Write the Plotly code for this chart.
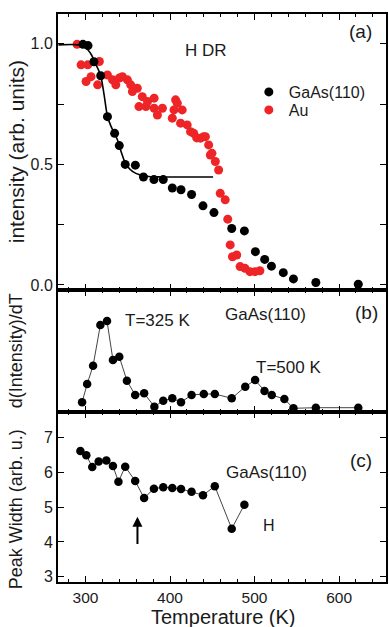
import plotly.graph_objects as go

# ---------------- data ----------------
# panel (a): H DR intensity
gaas_T = [297, 303, 310, 318, 326, 334.5, 340, 347, 359, 368.6, 381, 392, 402.7, 413, 425.5,
          439, 452, 473, 488, 501, 512, 520, 534, 546, 572.5, 622.7]
gaas_I = [0.998, 0.993, 0.926, 0.868, 0.698, 0.629, 0.578, 0.5, 0.497, 0.448, 0.437, 0.437,
          0.402, 0.395, 0.375, 0.328, 0.3, 0.234, 0.224, 0.138, 0.106, 0.078, 0.051, 0.025,
          0.01, 0.003]

au_T = [290, 294.8, 300.7, 302.7, 306.6, 314.4, 316.4, 326, 332, 335.9, 339.9, 343.7, 349.6,
        353.5, 355.5, 361.3, 363.3, 367.2, 371.5, 373.4, 381.2, 381.2, 385.1, 391, 402.7,
        404.7, 406.6, 408.6, 412.5, 414.4, 420.3, 424.3, 428.1, 431.6, 436, 439.9, 441.9,
        445.7, 447.7, 449.6, 453.6, 457.5, 459.4, 465.3, 468.3, 471.2, 473.9, 478.9, 482.9,
        488.7, 494.6, 500.5, 506.3]
au_I = [0.998, 0.913, 0.844, 0.913, 0.864, 0.83, 0.927, 0.871, 0.851, 0.83, 0.858, 0.864,
        0.851, 0.83, 0.802, 0.816, 0.74, 0.781, 0.74, 0.761, 0.775, 0.733, 0.705, 0.733,
        0.692, 0.726, 0.768, 0.754, 0.671, 0.726, 0.664, 0.636, 0.629, 0.61, 0.609, 0.615,
        0.615, 0.581, 0.539, 0.546, 0.512, 0.477, 0.38, 0.353, 0.273, 0.166, 0.117, 0.124,
        0.076, 0.069, 0.055, 0.055, 0.059]

fit_T = [268, 292, 298, 303, 307, 311, 315, 318, 322, 326, 330, 334, 338, 342, 346, 350,
         356, 364, 375, 390, 420, 451]
fit_I = [0.996, 0.996, 0.99, 0.975, 0.955, 0.925, 0.895, 0.868, 0.79, 0.70, 0.66, 0.63,
         0.6, 0.555, 0.515, 0.49, 0.47, 0.457, 0.45, 0.448, 0.448, 0.448]

# panel (b): d(Intensity)/dT (arb.)
dT_T = [296, 302, 309, 317.6, 325.5, 332.5, 340, 349, 358.8, 369.4, 381.5, 392, 402.7, 413,
        425.5, 440, 453, 473, 489, 500.7, 511.8, 520.4, 535.3, 546, 572.5, 622.7]
dT_v = [9.7, 28, 46.3, 87, 91, 52, 55.3, 31.3, 17, 18.7, 5.3, 11.3, 13.7, 9.7, 17, 18, 18,
        13.7, 25.3, 32, 21, 17, 13, 3.7, 4.3, 4.3]

# panel (c): peak width
pw_T = [294, 301, 308, 315.6, 324.7, 332.5, 339, 347, 358.8, 369.4, 381, 392, 402.7, 413,
        425.5, 439, 453, 473, 488]
pw_v = [6.61, 6.49, 6.15, 6.31, 6.34, 6.18, 5.73, 6.16, 5.75, 5.26, 5.53, 5.57, 5.55, 5.52,
        5.44, 5.34, 5.60, 4.38, 5.07]

x_ticks = [300, 400, 500, 600]
ya_ticks = [0.0, 0.5, 1.0]
yc_ticks = [3, 4, 5, 6, 7]

# ---------------- layout helpers ----------------
W, H = 389, 627
L, R, T, B = 58, 388, 14, 582


def px(x):
    return (x - L) / (R - L)


def py(y):
    return (B - y) / (B - T)


RED = "#ee2426"
BLK = "#000000"
FONT = "Liberation Sans, Arial, sans-serif"
TXT = "#1a1a1a"

fig = go.Figure()

fig.add_trace(go.Scatter(x=au_T, y=au_I, mode="markers", name="Au",
                         marker=dict(color=RED, size=9, line=dict(width=0)),
                         xaxis="x", yaxis="y", legend="legend2"))
fig.add_trace(go.Scatter(x=fit_T, y=fit_I, mode="lines", showlegend=False,
                         line=dict(color=BLK, width=1.6, shape="spline"),
                         xaxis="x", yaxis="y"))
fig.add_trace(go.Scatter(x=gaas_T, y=gaas_I, mode="markers", name="GaAs(110)",
                         marker=dict(color=BLK, size=9, line=dict(width=0)),
                         xaxis="x", yaxis="y", legend="legend"))
fig.add_trace(go.Scatter(x=dT_T, y=dT_v, mode="lines+markers", showlegend=False,
                         marker=dict(color=BLK, size=8.5),
                         line=dict(color="#444444", width=1),
                         xaxis="x2", yaxis="y2"))
fig.add_trace(go.Scatter(x=pw_T, y=pw_v, mode="lines+markers", showlegend=False,
                         marker=dict(color=BLK, size=8.5),
                         line=dict(color="#444444", width=1),
                         xaxis="x3", yaxis="y3"))

xr = [267.5, 655.5]
common_x = dict(range=xr, showgrid=False, zeroline=False, showline=True, linecolor=BLK,
                linewidth=2, mirror="allticks", ticks="inside", ticklen=6, tickwidth=1.3,
                tickcolor=BLK, tickvals=x_ticks,
                minor=dict(dtick=20, tick0=0, ticks="inside", ticklen=3, tickwidth=1,
                           tickcolor=BLK))

y_a0, y_a1 = py(290), 1.0
y_b0, y_b1 = py(412), py(290)
y_c0, y_c1 = 0.0, py(412)

leg_common = dict(xanchor="left", yanchor="top", bgcolor="rgba(0,0,0,0)", borderwidth=0,
                  font=dict(size=16, color=TXT), itemwidth=30)

fig.update_layout(
    width=W, height=H,
    margin=dict(l=L, r=W - R, t=T, b=H - B, pad=0),
    paper_bgcolor="white", plot_bgcolor="white",
    font=dict(family=FONT, size=16, color=TXT),
    xaxis=dict(common_x, anchor="y", showticklabels=False),
    xaxis2=dict(common_x, anchor="y2", showticklabels=False, matches="x"),
    xaxis3=dict(common_x, anchor="y3", showticklabels=True, matches="x",
                tickfont=dict(size=15.5, color=TXT)),
    yaxis=dict(domain=[y_a0, y_a1], range=[-0.021, 1.124], showgrid=False, zeroline=False,
               showline=True, linecolor=BLK, linewidth=2, mirror="allticks",
               ticks="inside", ticklen=6, tickwidth=1.3, tickcolor=BLK,
               tickvals=ya_ticks, tickformat=".1f", tickfont=dict(size=16, color=TXT),
               minor=dict(dtick=0.25, tick0=0, ticks="inside", ticklen=6, tickwidth=1,
                          tickcolor=BLK)),
    yaxis2=dict(domain=[y_b0, y_b1], range=[0, 122], showgrid=False, zeroline=False,
                showline=True, linecolor=BLK, linewidth=2, mirror=True, ticks="",
                showticklabels=False),
    yaxis3=dict(domain=[y_c0, y_c1], range=[2.85, 7.73], showgrid=False, zeroline=False,
                showline=True, linecolor=BLK, linewidth=2, mirror="allticks",
                ticks="inside", ticklen=6, tickwidth=1.3, tickcolor=BLK,
                tickvals=yc_ticks, tickfont=dict(size=16, color=TXT)),
    showlegend=True,
    legend=dict(leg_common, x=px(250), y=py(75)),
    legend2=dict(leg_common, x=px(250), y=py(93)),
)

anns = [
    dict(text="H DR", x=px(207), y=py(50), size=17),
    dict(text="(a)", x=px(362), y=py(32), size=19),
    dict(text="T=325 K", x=px(158), y=py(320), size=17),
    dict(text="GaAs(110)", x=px(267), y=py(314), size=17),
    dict(text="(b)", x=px(368), y=py(312), size=19),
    dict(text="T=500 K", x=px(290), y=py(368), size=17),
    dict(text="GaAs(110)", x=px(268), y=py(472), size=17),
    dict(text="(c)", x=px(363), y=py(460), size=19),
    dict(text="H", x=px(270), y=py(525), size=16),
    dict(text="Temperature (K)", x=px(225), y=py(617), size=20),
]
for a in anns:
    fig.add_annotation(text=a["text"], x=a["x"], y=a["y"], xref="paper", yref="paper",
                       showarrow=False, xanchor="center", yanchor="middle",
                       font=dict(size=a["size"], color=TXT, family=FONT))

vt = [
    ("intensity (arb. units)", 152, 21),
    ("d(Intensity)/dT", 351, 18),
    ("Peak Width (arb. u.)", 509, 18),
]
for text, yc, s in vt:
    fig.add_annotation(text=text, x=px(16), y=py(yc), xref="paper", yref="paper",
                       showarrow=False, textangle=-90, xanchor="center", yanchor="middle",
                       font=dict(size=s, color=TXT, family=FONT))

# arrow in panel (c)
fig.add_annotation(x=361.5, y=4.72, ax=361.5, ay=3.9, xref="x3", yref="y3",
                   axref="x3", ayref="y3", text="", showarrow=True, arrowhead=2,
                   arrowsize=1, arrowwidth=2, arrowcolor=BLK)

fig.write_html("out.html")
